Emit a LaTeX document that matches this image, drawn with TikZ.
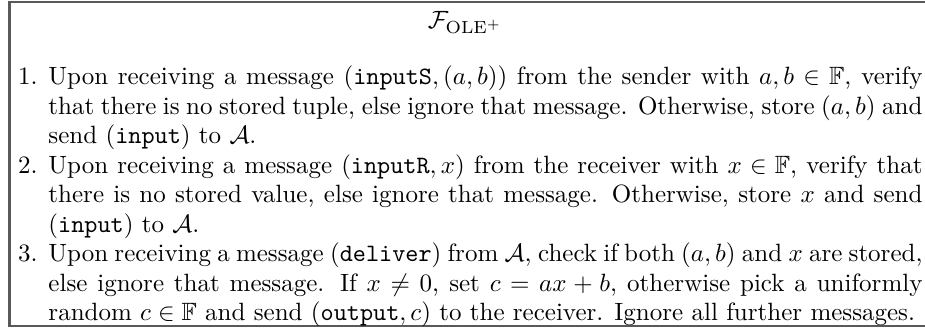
\documentclass[tikz,border=0pt]{standalone}
\usepackage{amssymb}
\usepackage{enumitem}
\begin{document}
\begin{tikzpicture}[x=1pt,y=1pt,
  framestyle/.style={draw=black!65,line width=0.85pt},
  bodytext/.style={anchor=base west,inner sep=0pt,text width=368.8pt,align=justify,
    font=\fontsize{10}{11.8}\selectfont}]
\useasboundingbox (0,0) rectangle (370,-133.2);
\coordinate (fnw) at (3.8,-0.8);
\coordinate (fse) at (374,-130.4);
\draw[framestyle] (fnw) rectangle (fse);
\node[anchor=base,inner sep=0pt] (title) at (186,-11.4) {$\mathcal{F}_{\mathrm{OLE}^+}$};
\node[bodytext] (body) at (0,-22.1) {%
\begin{enumerate}[leftmargin=19.2pt,labelsep=4.4pt,topsep=0pt,itemsep=0pt,parsep=0pt,partopsep=0pt,label=\arabic*.]
\item Upon receiving a message $(\texttt{inputS},(a,b))$ from the sender with $a,b\in\mathbb{F}$, verify\linebreak
that there is no stored tuple, else ignore that message. Otherwise, store $(a,b)$ and\linebreak
send $(\texttt{input})$ to $\mathcal{A}$.
\item Upon receiving a message $(\texttt{inputR},x)$ from the receiver with $x\in\mathbb{F}$, verify that\linebreak
there is no stored value, else ignore that message. Otherwise, store $x$ and send\linebreak
$(\texttt{input})$ to $\mathcal{A}$.
\item Upon receiving a message $(\texttt{deliver})$ from $\mathcal{A}$, check if both $(a,b)$ and $x$ are stored,\linebreak
else ignore that message. If $x\neq0$, set $c=ax+b$, otherwise pick a uniformly\linebreak
random $c\in\mathbb{F}$ and send $(\texttt{output},c)$ to the receiver. Ignore all further messages.
\end{enumerate}};
\end{tikzpicture}
\end{document}
